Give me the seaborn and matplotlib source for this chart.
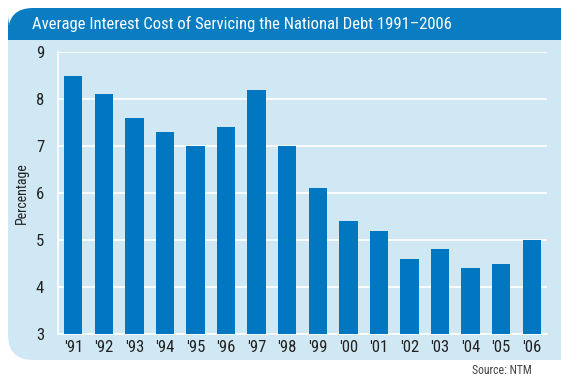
import matplotlib
matplotlib.use('Agg')
import matplotlib.pyplot as plt
import seaborn as sns
import pandas as pd
from matplotlib.patches import FancyBboxPatch, Rectangle
from matplotlib.ticker import MultipleLocator
from matplotlib import font_manager

years = ["'91", "'92", "'93", "'94", "'95", "'96", "'97", "'98",
         "'99", "'00", "'01", "'02", "'03", "'04", "'05", "'06"]
rates = [8.5, 8.1, 7.6, 7.3, 7.0, 7.4, 8.2, 7.0,
         6.1, 5.4, 5.2, 4.6, 4.8, 4.4, 4.5, 5.0]

df = pd.DataFrame({'Year': years, 'Rate': rates})

sns.set_style('white')
names = {f.name for f in font_manager.fontManager.ttflist}
fam = 'DejaVu Sans'
for cand in ['Liberation Sans Narrow', 'Roboto Condensed', 'Open Sans Condensed']:
    if cand in names:
        fam = cand
        break
plt.rcParams['font.family'] = [fam, 'DejaVu Sans']
plt.rcParams['font.stretch'] = 'condensed'

W, H = 561, 376
fig = plt.figure(figsize=(W / 100, H / 100), dpi=100)
fig.patch.set_facecolor('white')

panel_col = '#d0e8f4'
dark_blue = '#0a7cc1'
bar_col = '#0077c0'


def fx(px):
    return px / W


def fy(py):
    return 1 - py / H


panel = FancyBboxPatch((fx(8), fy(360)), fx(600) - fx(8), fy(8) - fy(360),
                       boxstyle='round,pad=0,rounding_size=0.045',
                       transform=fig.transFigure, facecolor=panel_col,
                       edgecolor='none', zorder=0, mutation_aspect=W / H)
fig.patches.append(panel)
band = FancyBboxPatch((fx(8), fy(40)), fx(600) - fx(8), fy(8) - fy(40),
                      boxstyle='round,pad=0,rounding_size=0.045',
                      transform=fig.transFigure, facecolor=dark_blue,
                      edgecolor='none', zorder=1, mutation_aspect=W / H)
fig.patches.append(band)
fig.patches.append(Rectangle((fx(8), fy(40)), fx(600) - fx(8), fy(25) - fy(40),
                             transform=fig.transFigure, facecolor=dark_blue,
                             edgecolor='none', zorder=1))

title = 'Average Interest Cost of Servicing the National Debt 1991\u20132006'
fig.text(fx(32), fy(24), title, color='white', fontsize=12, va='center',
         ha='left', zorder=3)

ax = fig.add_axes([fx(58), fy(334), fx(547) - fx(58), fy(52) - fy(334)])
ax.set_facecolor('none')
ax.set_zorder(2)

sns.barplot(data=df, x='Year', y='Rate', color=bar_col, width=0.6,
            saturation=1, linewidth=0, edgecolor='none', ax=ax, zorder=3)

ax.set_ylim(3, 9)
ax.set_xlim(-0.5, len(years) - 0.5)
ax.yaxis.set_major_locator(MultipleLocator(1))
ax.grid(axis='y', color='white', linewidth=1.2, zorder=1)
ax.set_axisbelow(True)

for s in ['top', 'right']:
    ax.spines[s].set_visible(False)
for s in ['left', 'bottom']:
    ax.spines[s].set_color('white')
    ax.spines[s].set_linewidth(1.2)

ax.set_xticks(range(len(years)))
ax.set_xticklabels(years)
ax.set_xticks([i + 0.5 for i in range(len(years))], minor=True)
ax.tick_params(axis='x', which='major', length=0, labelsize=12, pad=4, colors='#222222')
ax.tick_params(axis='x', which='minor', length=6, direction='in', color='white', width=1.2)
ax.tick_params(axis='y', length=0, labelsize=12, pad=10, colors='#222222')

ax.set_xlabel('')
ax.set_ylabel('Percentage', fontsize=10, color='#222222', labelpad=5)

fig.text(fx(472), fy(370), 'Source: NTM', fontsize=8.5, color='#444444',
         ha='left', va='center')

fig.savefig('out.png', dpi=100)
